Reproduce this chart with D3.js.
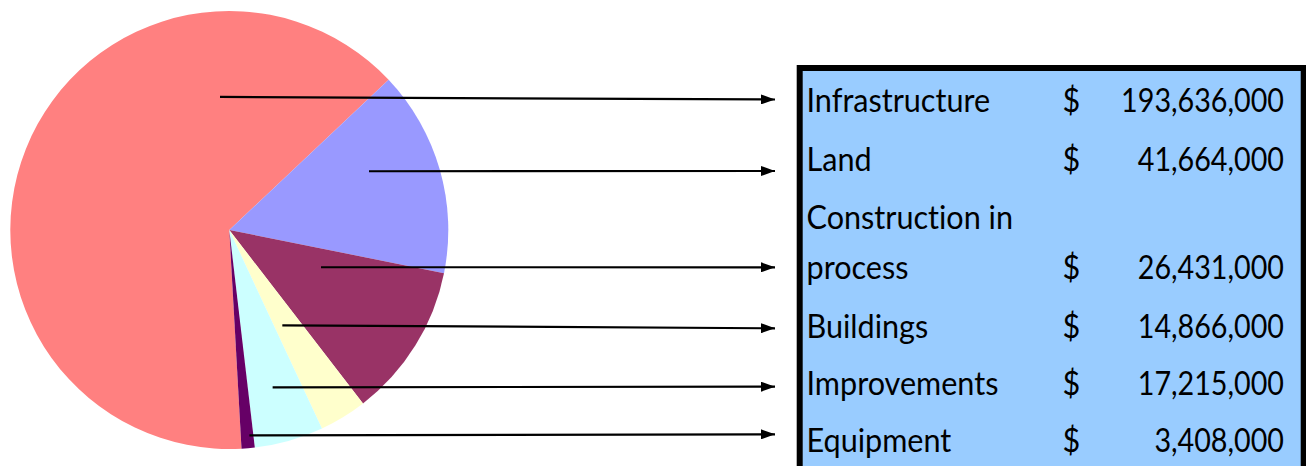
<!DOCTYPE html>
<html><head><meta charset="utf-8">
<script src="https://cdn.jsdelivr.net/npm/d3@7"></script>
<style>html,body{margin:0;padding:0;background:#fff;overflow:hidden} text{font-variant-ligatures:none;font-feature-settings:"liga" 0}</style>
</head><body>
<svg id="c" width="1306" height="466"></svg>
<script>
// ---- data ----
const categories = ["Infrastructure", "Land", "Construction in process", "Buildings", "Improvements", "Equipment"];
const labelLines = [["Infrastructure"], ["Land"], ["Construction in", "process"], ["Buildings"], ["Improvements"], ["Equipment"]];
const amounts = [193636000, 41664000, 26431000, 14866000, 17215000, 3408000];
// share of the pie as drawn in the picture (percent)
const pieShares = [63.9, 15.2, 11.4, 3.5, 5.1, 0.97];
const colors = ["#FF8080", "#9999FF", "#993366", "#FFFFCC", "#CCFFFF", "#660066"];

// ---- layout ----
const W = 1306, H = 466;
const cx = 229.3, cy = 230, R = 219;
const firstSliceStartDeg = -183.2;
// arrow start points inside each slice (polar: degrees clockwise from 12 o'clock, fraction of radius)
const arrowStartPolar = [[-4.0, 0.609], [67.2, 0.692], [112.1, 0.452], [150.9, 0.498], [164.6, 0.745], [174.4, 0.942]];
const arrowTipX = 776;
const arrowTipY = [99.5, 171, 267.3, 328.3, 386.7, 434.3];
const box = {x: 799.7, y: 68, w: 504, h: 500, stroke: 6};
const labelX = 806.5, dollarX = 1062.5, numRightX = 1284;
const lineBaselines = [[112], [170.5], [229, 278.5], [337.5], [394.5], [452]];
const fontSize = 32, targetLabelWidth = 192, targetNumWidth = 163;

const svg = d3.select("#c");
const rad = d => d * Math.PI / 180;

// ---- pie ----
const pie = d3.pie().sort(null).value(d => d)
  .startAngle(rad(firstSliceStartDeg)).endAngle(rad(firstSliceStartDeg + 360));
const arc = d3.arc().innerRadius(0).outerRadius(R);
const g = svg.append("g").attr("transform", `translate(${cx},${cy})`);
g.selectAll("path").data(pie(pieShares)).join("path")
  .attr("d", arc).attr("fill", (d, i) => colors[i]);

// ---- table box ----
svg.append("rect").attr("x", box.x).attr("y", box.y).attr("width", box.w).attr("height", box.h)
  .attr("fill", "#99CCFF").attr("stroke", "#000").attr("stroke-width", box.stroke);

// ---- arrows ----
const defs = svg.append("defs");
defs.append("marker").attr("id", "ah").attr("viewBox", "0 0 14 10")
  .attr("refX", 14).attr("refY", 5).attr("markerWidth", 14).attr("markerHeight", 10)
  .attr("markerUnits", "userSpaceOnUse").attr("orient", "auto")
  .append("path").attr("d", "M0,0L14,5L0,10Z").attr("fill", "#000");
svg.selectAll("line.arrow").data(categories).join("line").attr("class", "arrow")
  .attr("x1", (d, i) => cx + Math.sin(rad(arrowStartPolar[i][0])) * R * arrowStartPolar[i][1])
  .attr("y1", (d, i) => cy - Math.cos(rad(arrowStartPolar[i][0])) * R * arrowStartPolar[i][1])
  .attr("x2", arrowTipX - 1).attr("y2", (d, i) => arrowTipY[i])
  .attr("stroke", "#000").attr("stroke-width", 2.2).attr("marker-end", "url(#ah)");

// ---- text ----
const font = "Lato, 'Noto Sans', sans-serif";
const measure = s => {
  const p = svg.append("text").attr("font-family", font).attr("font-size", fontSize).text(s);
  const w = p.node().getComputedTextLength(); p.remove(); return w;
};
const fmt = d3.format(",");
const sx = targetLabelWidth / measure("Improvements");
const sn = targetNumWidth / measure(fmt(amounts[0]));
const txt = svg.append("g").attr("font-family", font).attr("font-size", fontSize).attr("fill", "#000");
categories.forEach((c, i) => {
  labelLines[i].forEach((ln, j) => {
    txt.append("text").attr("transform", `translate(${labelX},${lineBaselines[i][j]}) scale(${sx},1)`).text(ln);
  });
  const by = lineBaselines[i][lineBaselines[i].length - 1];
  txt.append("text").attr("transform", `translate(${dollarX},${by}) scale(${sx},1)`).text("$");
  txt.append("text").attr("transform", `translate(${numRightX},${by}) scale(${sn},1)`)
    .attr("text-anchor", "end").text(fmt(amounts[i]));
});
</script>
</body></html>
